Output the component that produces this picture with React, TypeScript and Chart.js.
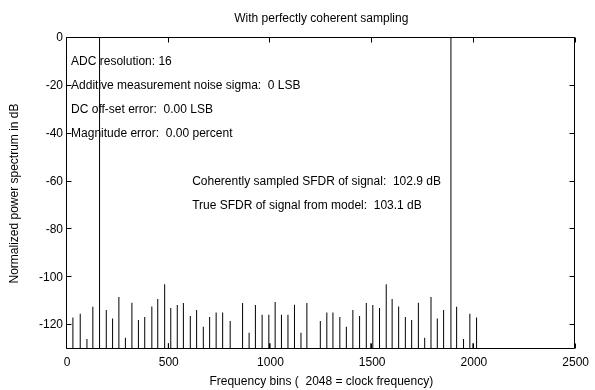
import React, { useEffect, useRef } from "react";
import { Chart, registerables } from "chart.js";

Chart.register(...registerables);

// ---- data ----
const bins = [
  29, 65, 98, 127, 160, 193, 224, 255, 287, 319, 351, 382, 417, 446, 480, 498,
  510, 542, 572, 606, 637, 670, 701, 733, 765, 802, 863, 895, 926, 959, 992, 998,
  1023, 1054, 1086, 1118, 1150, 1179, 1245, 1277, 1307, 1341, 1373, 1405, 1438,
  1471, 1493, 1503, 1536, 1569, 1598, 1630, 1663, 1694, 1727, 1758, 1789, 1820,
  1851, 1887, 1915, 1949, 1980, 1995, 2013,
];
const levels = [
  -116.8, -115.3, -125.8, -112.3, 0, -113.7, -117.2, -108.3, -125.3, -110.7, -117.9, -116.6, -112.2, -109.1, -102.9, -127.6,
  -112.9, -111.6, -110.8, -116.2, -113.7, -120.7, -116.6, -114.7, -114.7, -118.3, -110.8, -123.2, -111.6, -115.7, -115.7, -127.6,
  -110.4, -115.7, -115.7, -111.5, -123.2, -110.8, -118.3, -114.7, -114.7, -116.6, -120.7, -113.7, -116.2,
  -110.8, -127.6, -111.6, -112.9, -102.9, -109.1, -112.2, -116.6, -117.9, -110.7, -125.3, -108.3, -117.2,
  -113.7, 0, -112.3, -125.8, -115.3, -127.6, -116.8,
];
const xTicks = [0, 500, 1000, 1500, 2000, 2500];
const yTicks = [0, -20, -40, -60, -80, -100, -120];
const X_MIN = 0;
const X_MAX = 2500;
const Y_MIN = -130;
const Y_MAX = 0;

const infoLines = [
  "ADC resolution: 16",
  "Additive measurement noise sigma:  0 LSB",
  "DC off-set error:  0.00 LSB",
  "Magnitude error:  0.00 percent",
];
const infoX = 20;
const infoY = [-10, -20, -30, -40];

const sfdrLines = [
  "Coherently sampled SFDR of signal:  102.9 dB",
  "True SFDR of signal from model:  103.1 dB",
];
const sfdrX = 615;
const sfdrY = [-60, -70];

const titleText = "With perfectly coherent sampling";
const xLabel = "Frequency bins (  2048 = clock frequency)";
const yLabel = "Normalized power spectrum in dB";

const FONT = '"Liberation Sans", Arial, sans-serif';

const framePlugin = {
  id: "frame",
  afterDatasetsDraw(chart: any) {
    const { ctx, chartArea: a, scales } = chart;
    const xs = scales.x;
    const ys = scales.y;
    const L = Math.floor(a.left) - 0.5;
    const R = Math.floor(a.right) - 0.5;
    const T = Math.floor(a.top) - 0.5;
    const B = Math.floor(a.bottom) - 0.5;
    ctx.save();
    ctx.strokeStyle = "#000";
    ctx.lineWidth = 1;
    ctx.beginPath();
    ctx.rect(L, T, R - L, B - T);
    const tl = 5;
    xTicks.forEach((v) => {
      const p = Math.round(xs.getPixelForValue(v)) - 0.5;
      ctx.moveTo(p, B);
      ctx.lineTo(p, B - tl);
      ctx.moveTo(p, T);
      ctx.lineTo(p, T + tl);
    });
    yTicks.forEach((v) => {
      const p = Math.round(ys.getPixelForValue(v)) - 0.5;
      ctx.moveTo(L, p);
      ctx.lineTo(L + tl, p);
      ctx.moveTo(R, p);
      ctx.lineTo(R - tl, p);
    });
    ctx.stroke();

    ctx.fillStyle = "#000";
    ctx.font = "12px " + FONT;
    ctx.textAlign = "left";
    ctx.textBaseline = "middle";
    infoLines.forEach((t, i) => {
      ctx.fillText(t, xs.getPixelForValue(infoX), ys.getPixelForValue(infoY[i]));
    });
    sfdrLines.forEach((t, i) => {
      ctx.fillText(t, xs.getPixelForValue(sfdrX), ys.getPixelForValue(sfdrY[i]));
    });
    ctx.restore();
  },
};

export default function App() {
  const ref = useRef<HTMLCanvasElement>(null);

  useEffect(() => {
    if (!ref.current) return;
    Chart.defaults.color = "#000";
    Chart.defaults.font.family = FONT;
    Chart.defaults.font.size = 12;

    const chart = new Chart(ref.current, {
      type: "bar",
      data: {
        datasets: [
          {
            data: bins.map((b, i) => ({ x: b, y: [Y_MIN, levels[i]] })) as any,
            backgroundColor: "#000",
            borderWidth: 0,
            barThickness: 1,
            inflateAmount: 0,
            grouped: false,
          } as any,
        ],
      },
      options: {
        animation: false,
        responsive: false,
        maintainAspectRatio: false,
        devicePixelRatio: 1,
        layout: { padding: { left: 0, right: 18, top: 0, bottom: 0 } },
        plugins: {
          legend: { display: false },
          tooltip: { enabled: false },
          title: { display: false },
        },
        scales: {
          x: {
            type: "linear",
            position: "bottom",
            min: X_MIN,
            max: X_MAX,
            offset: false,
            grid: { display: false, drawTicks: false },
            border: { display: false },
            ticks: {
              padding: 6,
              maxRotation: 0,
              autoSkip: false,
              callback: (v: any) => String(v),
            },
            afterBuildTicks: (s: any) => {
              s.ticks = xTicks.map((v) => ({ value: v }));
            },
            title: {
              display: true,
              text: xLabel,
              padding: { top: 0, bottom: 1 },
              font: { size: 12 },
            },
            afterFit: (s: any) => {
              s.height = 41;
            },
          },
          x2: {
            type: "linear",
            position: "top",
            min: X_MIN,
            max: X_MAX,
            offset: false,
            grid: { display: false, drawTicks: false },
            border: { display: false },
            ticks: { display: false },
            title: {
              display: true,
              text: titleText,
              padding: { top: 11, bottom: 0 },
              font: { size: 12 },
            },
            afterFit: (s: any) => {
              s.height = 38;
            },
          },
          y: {
            type: "linear",
            position: "left",
            min: Y_MIN,
            max: Y_MAX,
            beginAtZero: false,
            grid: { display: false, drawTicks: false },
            border: { display: false },
            ticks: { padding: 4, callback: (v: any) => String(v) },
            afterBuildTicks: (s: any) => {
              s.ticks = yTicks.map((v) => ({ value: v }));
            },
            title: {
              display: true,
              text: yLabel,
              padding: { top: 7, bottom: 0 },
              font: { size: 12 },
            },
            afterFit: (s: any) => {
              s.width = 67;
            },
          },
        },
      } as any,
      plugins: [framePlugin],
    });
    return () => chart.destroy();
  }, []);

  return (
    <div
      style={{
        position: "absolute",
        left: 0,
        top: 0,
        width: 595,
        height: 390,
        background: "#fff",
      }}
    >
      <canvas ref={ref} width={595} height={390} style={{ display: "block" }} />
    </div>
  );
}
